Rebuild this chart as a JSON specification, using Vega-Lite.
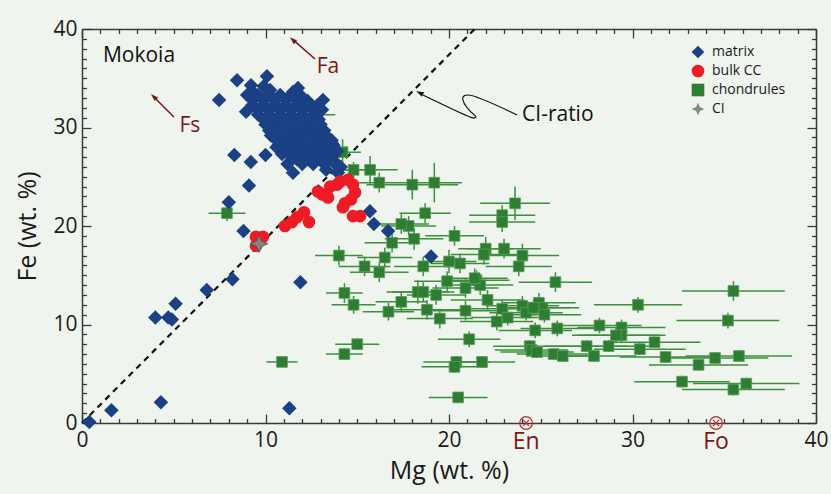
{
  "$schema": "https://vega.github.io/schema/vega-lite/v6.json",
  "width": 734,
  "height": 394,
  "autosize": {"type": "none"},
  "padding": {"left": 82, "top": 29, "right": 15, "bottom": 71},
  "background": "#eff5ee",
  "config": {
    "view": {"stroke": null},
    "font": "Open Sans",
    "axis": {
      "grid": false, "domainColor": "#3a3a3a", "domainWidth": 1.5,
      "tickColor": "#3a3a3a", "tickWidth": 1.3,
      "labelColor": "#1a1a1a", "titleColor": "#1a1a1a",
      "labelFont": "Open Sans", "titleFont": "Open Sans",
      "labelFontSize": 21, "titleFontSize": 25, "titleFontWeight": "normal",
      "labelOverlap": false, "labelFlush": false, "labelBound": false
    },
    "legend": {"labelFont": "Open Sans", "labelFontSize": 14, "labelColor": "#1a1a1a", "symbolSize": 160, "rowPadding": 5, "labelOffset": 7, "padding": 0, "symbolStrokeWidth": 0}
  },
  "datasets": {
    "chond": [
      {"Mg":7.9,"Fe":21.3,"xerr":1.0,"yerr":0.8,"type":"chondrules"},
      {"Mg":14.2,"Fe":27.5,"xerr":1.0,"yerr":1.3,"type":"chondrules"},
      {"Mg":14.8,"Fe":25.7,"xerr":1.3,"yerr":0.8,"type":"chondrules"},
      {"Mg":15.7,"Fe":25.7,"xerr":1.5,"yerr":1.4,"type":"chondrules"},
      {"Mg":16.2,"Fe":24.4,"xerr":2.0,"yerr":1.0,"type":"chondrules"},
      {"Mg":18.0,"Fe":24.2,"xerr":2.5,"yerr":1.5,"type":"chondrules"},
      {"Mg":19.2,"Fe":24.4,"xerr":1.5,"yerr":2.0,"type":"chondrules"},
      {"Mg":23.6,"Fe":22.3,"xerr":1.9,"yerr":1.7,"type":"chondrules"},
      {"Mg":22.9,"Fe":21.1,"xerr":1.8,"yerr":1.0,"type":"chondrules"},
      {"Mg":22.9,"Fe":20.4,"xerr":1.8,"yerr":1.0,"type":"chondrules"},
      {"Mg":18.7,"Fe":21.3,"xerr":1.4,"yerr":1.0,"type":"chondrules"},
      {"Mg":17.8,"Fe":20.0,"xerr":1.5,"yerr":1.0,"type":"chondrules"},
      {"Mg":17.4,"Fe":20.2,"xerr":1.5,"yerr":1.0,"type":"chondrules"},
      {"Mg":18.1,"Fe":18.7,"xerr":1.6,"yerr":1.1,"type":"chondrules"},
      {"Mg":20.3,"Fe":19.0,"xerr":1.6,"yerr":1.0,"type":"chondrules"},
      {"Mg":22.0,"Fe":17.7,"xerr":1.5,"yerr":1.2,"type":"chondrules"},
      {"Mg":23.0,"Fe":17.7,"xerr":2.0,"yerr":1.0,"type":"chondrules"},
      {"Mg":16.9,"Fe":18.3,"xerr":1.5,"yerr":1.0,"type":"chondrules"},
      {"Mg":16.5,"Fe":16.8,"xerr":1.5,"yerr":1.0,"type":"chondrules"},
      {"Mg":14.0,"Fe":17.0,"xerr":1.3,"yerr":1.0,"type":"chondrules"},
      {"Mg":15.4,"Fe":15.9,"xerr":1.4,"yerr":1.0,"type":"chondrules"},
      {"Mg":16.2,"Fe":15.3,"xerr":1.6,"yerr":1.0,"type":"chondrules"},
      {"Mg":18.6,"Fe":15.9,"xerr":1.6,"yerr":1.0,"type":"chondrules"},
      {"Mg":20.0,"Fe":16.4,"xerr":1.5,"yerr":1.2,"type":"chondrules"},
      {"Mg":20.6,"Fe":16.2,"xerr":1.6,"yerr":1.0,"type":"chondrules"},
      {"Mg":14.3,"Fe":13.2,"xerr":1.0,"yerr":1.0,"type":"chondrules"},
      {"Mg":14.8,"Fe":12.0,"xerr":1.2,"yerr":0.9,"type":"chondrules"},
      {"Mg":17.4,"Fe":12.3,"xerr":1.4,"yerr":1.0,"type":"chondrules"},
      {"Mg":16.7,"Fe":11.3,"xerr":1.4,"yerr":0.9,"type":"chondrules"},
      {"Mg":18.3,"Fe":13.3,"xerr":1.7,"yerr":1.2,"type":"chondrules"},
      {"Mg":18.6,"Fe":13.3,"xerr":1.7,"yerr":1.0,"type":"chondrules"},
      {"Mg":19.3,"Fe":13.0,"xerr":1.6,"yerr":1.0,"type":"chondrules"},
      {"Mg":18.8,"Fe":11.5,"xerr":1.8,"yerr":1.0,"type":"chondrules"},
      {"Mg":19.5,"Fe":10.6,"xerr":1.8,"yerr":1.0,"type":"chondrules"},
      {"Mg":19.9,"Fe":14.4,"xerr":1.8,"yerr":1.0,"type":"chondrules"},
      {"Mg":20.9,"Fe":13.7,"xerr":1.8,"yerr":1.0,"type":"chondrules"},
      {"Mg":21.5,"Fe":14.5,"xerr":1.8,"yerr":1.0,"type":"chondrules"},
      {"Mg":20.9,"Fe":11.4,"xerr":1.8,"yerr":1.0,"type":"chondrules"},
      {"Mg":15.0,"Fe":8.0,"xerr":1.2,"yerr":0.6,"type":"chondrules"},
      {"Mg":14.3,"Fe":7.0,"xerr":1.0,"yerr":0.6,"type":"chondrules"},
      {"Mg":21.1,"Fe":8.5,"xerr":1.7,"yerr":0.8,"type":"chondrules"},
      {"Mg":20.4,"Fe":6.2,"xerr":1.8,"yerr":0.6,"type":"chondrules"},
      {"Mg":20.5,"Fe":2.6,"xerr":1.6,"yerr":0.5,"type":"chondrules"},
      {"Mg":10.9,"Fe":6.2,"xerr":0.85,"yerr":0.4,"type":"chondrules"},
      {"Mg":21.9,"Fe":17.1,"xerr":1.8,"yerr":1.0,"type":"chondrules"},
      {"Mg":24.0,"Fe":17.0,"xerr":2.0,"yerr":1.2,"type":"chondrules"},
      {"Mg":23.8,"Fe":15.9,"xerr":1.8,"yerr":1.0,"type":"chondrules"},
      {"Mg":25.8,"Fe":14.3,"xerr":2.0,"yerr":1.0,"type":"chondrules"},
      {"Mg":21.7,"Fe":14.0,"xerr":1.8,"yerr":1.0,"type":"chondrules"},
      {"Mg":22.1,"Fe":12.5,"xerr":2.0,"yerr":1.0,"type":"chondrules"},
      {"Mg":22.9,"Fe":11.6,"xerr":2.0,"yerr":0.9,"type":"chondrules"},
      {"Mg":22.6,"Fe":10.3,"xerr":2.0,"yerr":0.9,"type":"chondrules"},
      {"Mg":23.2,"Fe":10.7,"xerr":2.0,"yerr":0.8,"type":"chondrules"},
      {"Mg":24.0,"Fe":11.9,"xerr":2.0,"yerr":1.0,"type":"chondrules"},
      {"Mg":24.9,"Fe":12.2,"xerr":2.0,"yerr":1.0,"type":"chondrules"},
      {"Mg":25.1,"Fe":11.7,"xerr":2.0,"yerr":0.8,"type":"chondrules"},
      {"Mg":24.2,"Fe":11.2,"xerr":2.0,"yerr":0.8,"type":"chondrules"},
      {"Mg":24.6,"Fe":11.7,"xerr":2.0,"yerr":0.8,"type":"chondrules"},
      {"Mg":25.2,"Fe":11.0,"xerr":2.0,"yerr":0.8,"type":"chondrules"},
      {"Mg":24.7,"Fe":9.4,"xerr":2.0,"yerr":0.8,"type":"chondrules"},
      {"Mg":25.9,"Fe":9.6,"xerr":2.0,"yerr":0.8,"type":"chondrules"},
      {"Mg":28.2,"Fe":9.9,"xerr":2.3,"yerr":0.8,"type":"chondrules"},
      {"Mg":29.4,"Fe":9.7,"xerr":2.4,"yerr":0.8,"type":"chondrules"},
      {"Mg":29.4,"Fe":8.9,"xerr":2.4,"yerr":0.8,"type":"chondrules"},
      {"Mg":29.1,"Fe":8.9,"xerr":2.4,"yerr":0.8,"type":"chondrules"},
      {"Mg":30.3,"Fe":12.0,"xerr":2.4,"yerr":0.8,"type":"chondrules"},
      {"Mg":35.5,"Fe":13.4,"xerr":2.8,"yerr":1.0,"type":"chondrules"},
      {"Mg":35.2,"Fe":10.4,"xerr":2.8,"yerr":0.8,"type":"chondrules"},
      {"Mg":31.2,"Fe":8.2,"xerr":2.5,"yerr":0.6,"type":"chondrules"},
      {"Mg":30.4,"Fe":7.5,"xerr":2.5,"yerr":0.6,"type":"chondrules"},
      {"Mg":28.7,"Fe":7.8,"xerr":2.5,"yerr":0.6,"type":"chondrules"},
      {"Mg":27.5,"Fe":7.8,"xerr":2.3,"yerr":0.6,"type":"chondrules"},
      {"Mg":27.9,"Fe":6.8,"xerr":2.3,"yerr":0.6,"type":"chondrules"},
      {"Mg":31.8,"Fe":6.7,"xerr":2.5,"yerr":0.6,"type":"chondrules"},
      {"Mg":33.6,"Fe":5.9,"xerr":2.7,"yerr":0.6,"type":"chondrules"},
      {"Mg":34.5,"Fe":6.6,"xerr":2.9,"yerr":0.6,"type":"chondrules"},
      {"Mg":35.8,"Fe":6.8,"xerr":2.9,"yerr":0.6,"type":"chondrules"},
      {"Mg":32.7,"Fe":4.2,"xerr":2.6,"yerr":0.6,"type":"chondrules"},
      {"Mg":35.5,"Fe":3.4,"xerr":2.8,"yerr":0.6,"type":"chondrules"},
      {"Mg":36.2,"Fe":4.0,"xerr":2.9,"yerr":0.6,"type":"chondrules"},
      {"Mg":24.4,"Fe":7.8,"xerr":2.0,"yerr":0.6,"type":"chondrules"},
      {"Mg":24.5,"Fe":7.4,"xerr":2.0,"yerr":0.6,"type":"chondrules"},
      {"Mg":24.8,"Fe":7.2,"xerr":2.0,"yerr":0.6,"type":"chondrules"},
      {"Mg":25.7,"Fe":7.0,"xerr":2.0,"yerr":0.6,"type":"chondrules"},
      {"Mg":26.2,"Fe":6.8,"xerr":2.0,"yerr":0.6,"type":"chondrules"},
      {"Mg":21.8,"Fe":6.2,"xerr":1.8,"yerr":0.6,"type":"chondrules"},
      {"Mg":20.3,"Fe":5.7,"xerr":1.8,"yerr":0.6,"type":"chondrules"},
      {"Mg":12.8,"Fe":31.3,"xerr":1.0,"yerr":1.0,"type":"chondrules"},
      {"Mg":21.4,"Fe":14.7,"xerr":1.8,"yerr":1.0,"type":"chondrules"}
    ],
    "matrix": [
      {"Mg":0.4,"Fe":0.1,"type":"matrix"},{"Mg":1.6,"Fe":1.3,"type":"matrix"},{"Mg":4.3,"Fe":2.1,"type":"matrix"},
      {"Mg":4.0,"Fe":10.7,"type":"matrix"},{"Mg":4.7,"Fe":10.7,"type":"matrix"},{"Mg":4.9,"Fe":10.5,"type":"matrix"},
      {"Mg":5.1,"Fe":12.1,"type":"matrix"},{"Mg":6.8,"Fe":13.5,"type":"matrix"},{"Mg":8.2,"Fe":14.6,"type":"matrix"},
      {"Mg":11.9,"Fe":14.3,"type":"matrix"},{"Mg":11.3,"Fe":1.5,"type":"matrix"},{"Mg":8.8,"Fe":19.5,"type":"matrix"},
      {"Mg":8.0,"Fe":22.4,"type":"matrix"},{"Mg":9.1,"Fe":24.1,"type":"matrix"},{"Mg":8.3,"Fe":27.2,"type":"matrix"},
      {"Mg":9.2,"Fe":26.5,"type":"matrix"},{"Mg":10.0,"Fe":27.2,"type":"matrix"},{"Mg":11.2,"Fe":26.3,"type":"matrix"},
      {"Mg":11.5,"Fe":25.4,"type":"matrix"},
      {"Mg":8.45,"Fe":34.8,"type":"matrix"},{"Mg":7.47,"Fe":32.8,"type":"matrix"},{"Mg":9.21,"Fe":34.3,"type":"matrix"},
      {"Mg":10.08,"Fe":35.2,"type":"matrix"},{"Mg":8.94,"Fe":31.6,"type":"matrix"},{"Mg":11.77,"Fe":34.0,"type":"matrix"},
      {"Mg":13.13,"Fe":32.8,"type":"matrix"},{"Mg":13.08,"Fe":31.8,"type":"matrix"},{"Mg":9.32,"Fe":33.6,"type":"matrix"},
      {"Mg":10.25,"Fe":33.8,"type":"matrix"},{"Mg":11.5,"Fe":33.6,"type":"matrix"},{"Mg":9.9,"Fe":34.2,"type":"matrix"},
      {"Mg":9.0,"Fe":33.3,"type":"matrix"},{"Mg":9.6,"Fe":33.3,"type":"matrix"},{"Mg":10.2,"Fe":33.3,"type":"matrix"},
      {"Mg":10.8,"Fe":33.3,"type":"matrix"},{"Mg":11.4,"Fe":33.3,"type":"matrix"},{"Mg":12.0,"Fe":33.1,"type":"matrix"},
      {"Mg":9.3,"Fe":32.8,"type":"matrix"},{"Mg":9.9,"Fe":32.8,"type":"matrix"},{"Mg":10.5,"Fe":32.8,"type":"matrix"},
      {"Mg":11.1,"Fe":32.8,"type":"matrix"},{"Mg":11.7,"Fe":32.8,"type":"matrix"},{"Mg":12.3,"Fe":32.7,"type":"matrix"},
      {"Mg":9.3,"Fe":32.3,"type":"matrix"},{"Mg":9.9,"Fe":32.3,"type":"matrix"},{"Mg":10.5,"Fe":32.3,"type":"matrix"},
      {"Mg":11.1,"Fe":32.3,"type":"matrix"},{"Mg":11.7,"Fe":32.3,"type":"matrix"},{"Mg":12.3,"Fe":32.3,"type":"matrix"},
      {"Mg":12.8,"Fe":32.2,"type":"matrix"},
      {"Mg":9.6,"Fe":31.8,"type":"matrix"},{"Mg":10.2,"Fe":31.8,"type":"matrix"},{"Mg":10.8,"Fe":31.8,"type":"matrix"},
      {"Mg":11.4,"Fe":31.8,"type":"matrix"},{"Mg":12.0,"Fe":31.8,"type":"matrix"},{"Mg":12.6,"Fe":31.8,"type":"matrix"},
      {"Mg":9.6,"Fe":31.3,"type":"matrix"},{"Mg":10.2,"Fe":31.3,"type":"matrix"},{"Mg":10.8,"Fe":31.3,"type":"matrix"},
      {"Mg":11.4,"Fe":31.3,"type":"matrix"},{"Mg":12.0,"Fe":31.3,"type":"matrix"},{"Mg":12.6,"Fe":31.3,"type":"matrix"},
      {"Mg":9.9,"Fe":30.8,"type":"matrix"},{"Mg":10.5,"Fe":30.8,"type":"matrix"},{"Mg":11.1,"Fe":30.8,"type":"matrix"},
      {"Mg":11.7,"Fe":30.8,"type":"matrix"},{"Mg":12.3,"Fe":30.8,"type":"matrix"},{"Mg":12.9,"Fe":30.8,"type":"matrix"},
      {"Mg":10.0,"Fe":30.3,"type":"matrix"},{"Mg":10.6,"Fe":30.3,"type":"matrix"},{"Mg":11.2,"Fe":30.3,"type":"matrix"},
      {"Mg":11.8,"Fe":30.3,"type":"matrix"},{"Mg":12.4,"Fe":30.3,"type":"matrix"},{"Mg":13.0,"Fe":30.3,"type":"matrix"},
      {"Mg":10.2,"Fe":29.7,"type":"matrix"},{"Mg":10.8,"Fe":29.7,"type":"matrix"},{"Mg":11.4,"Fe":29.7,"type":"matrix"},
      {"Mg":12.0,"Fe":29.7,"type":"matrix"},{"Mg":12.6,"Fe":29.7,"type":"matrix"},{"Mg":13.2,"Fe":29.7,"type":"matrix"},
      {"Mg":10.3,"Fe":29.2,"type":"matrix"},{"Mg":10.9,"Fe":29.2,"type":"matrix"},{"Mg":11.5,"Fe":29.2,"type":"matrix"},
      {"Mg":12.1,"Fe":29.2,"type":"matrix"},{"Mg":12.7,"Fe":29.2,"type":"matrix"},{"Mg":13.3,"Fe":29.2,"type":"matrix"},
      {"Mg":10.6,"Fe":28.7,"type":"matrix"},{"Mg":11.2,"Fe":28.7,"type":"matrix"},{"Mg":11.8,"Fe":28.7,"type":"matrix"},
      {"Mg":12.4,"Fe":28.7,"type":"matrix"},{"Mg":13.0,"Fe":28.7,"type":"matrix"},{"Mg":13.6,"Fe":28.7,"type":"matrix"},
      {"Mg":10.7,"Fe":28.2,"type":"matrix"},{"Mg":11.3,"Fe":28.2,"type":"matrix"},{"Mg":11.9,"Fe":28.2,"type":"matrix"},
      {"Mg":12.5,"Fe":28.2,"type":"matrix"},{"Mg":13.1,"Fe":28.2,"type":"matrix"},{"Mg":13.7,"Fe":28.2,"type":"matrix"},
      {"Mg":11.0,"Fe":27.7,"type":"matrix"},{"Mg":11.6,"Fe":27.7,"type":"matrix"},{"Mg":12.2,"Fe":27.7,"type":"matrix"},
      {"Mg":12.8,"Fe":27.7,"type":"matrix"},{"Mg":13.4,"Fe":27.7,"type":"matrix"},
      {"Mg":11.3,"Fe":27.2,"type":"matrix"},{"Mg":11.9,"Fe":27.2,"type":"matrix"},{"Mg":12.5,"Fe":27.2,"type":"matrix"},
      {"Mg":13.1,"Fe":27.2,"type":"matrix"},{"Mg":13.7,"Fe":27.2,"type":"matrix"},
      {"Mg":11.7,"Fe":26.8,"type":"matrix"},{"Mg":12.3,"Fe":26.8,"type":"matrix"},{"Mg":12.9,"Fe":26.8,"type":"matrix"},
      {"Mg":13.5,"Fe":26.8,"type":"matrix"},
      {"Mg":12.0,"Fe":26.3,"type":"matrix"},{"Mg":12.6,"Fe":26.3,"type":"matrix"},{"Mg":13.2,"Fe":26.3,"type":"matrix"},
      {"Mg":13.8,"Fe":26.3,"type":"matrix"},{"Mg":13.3,"Fe":25.7,"type":"matrix"},
      {"Mg":10.6,"Fe":28.0,"type":"matrix"},{"Mg":10.9,"Fe":27.3,"type":"matrix"},
      {"Mg":13.62,"Fe":28.4,"type":"matrix"},{"Mg":13.9,"Fe":27.6,"type":"matrix"},{"Mg":13.79,"Fe":26.5,"type":"matrix"},
      {"Mg":13.95,"Fe":25.4,"type":"matrix"},{"Mg":14.1,"Fe":26.0,"type":"matrix"},
      {"Mg":15.69,"Fe":21.5,"type":"matrix"},{"Mg":15.91,"Fe":20.2,"type":"matrix"},{"Mg":16.68,"Fe":19.5,"type":"matrix"},
      {"Mg":19.02,"Fe":16.9,"type":"matrix"}
    ],
    "bulk": [
      {"Mg":9.48,"Fe":18.9,"type":"bulk CC"},{"Mg":9.86,"Fe":18.9,"type":"bulk CC"},{"Mg":9.48,"Fe":18.0,"type":"bulk CC"},
      {"Mg":11.06,"Fe":20.0,"type":"bulk CC"},{"Mg":11.44,"Fe":20.4,"type":"bulk CC"},{"Mg":11.72,"Fe":20.9,"type":"bulk CC"},
      {"Mg":12.1,"Fe":21.4,"type":"bulk CC"},{"Mg":12.37,"Fe":20.4,"type":"bulk CC"},{"Mg":12.86,"Fe":23.5,"type":"bulk CC"},
      {"Mg":13.41,"Fe":22.9,"type":"bulk CC"},{"Mg":13.52,"Fe":24.0,"type":"bulk CC"},{"Mg":13.9,"Fe":24.2,"type":"bulk CC"},
      {"Mg":14.06,"Fe":24.5,"type":"bulk CC"},{"Mg":14.5,"Fe":24.7,"type":"bulk CC"},{"Mg":14.77,"Fe":24.2,"type":"bulk CC"},
      {"Mg":14.88,"Fe":23.4,"type":"bulk CC"},{"Mg":14.66,"Fe":22.7,"type":"bulk CC"},{"Mg":14.33,"Fe":22.3,"type":"bulk CC"},
      {"Mg":14.22,"Fe":21.9,"type":"bulk CC"},{"Mg":14.77,"Fe":21.0,"type":"bulk CC"},{"Mg":15.15,"Fe":21.0,"type":"bulk CC"},
      {"Mg":13.1,"Fe":23.2,"type":"bulk CC"}
    ],
    "ci": [{"Mg":9.65,"Fe":18.2,"type":"CI"}]
  },
  "layer": [
    {
      "data": {"values": [{"Mg":0,"Fe":0},{"Mg":21.4,"Fe":40}]},
      "mark": {"type": "line", "color": "#111111", "strokeWidth": 2.2, "strokeDash": [6, 5]},
      "encoding": {
        "x": {"field": "Mg", "type": "quantitative", "scale": {"domain": [0, 40], "nice": false, "zero": false},
          "axis": {"orient": "bottom", "values": [0,1,2,3,4,5,6,7,8,9,10,11,12,13,14,15,16,17,18,19,20,21,22,23,24,25,26,27,28,29,30,31,32,33,34,35,36,37,38,39,40],
            "tickSize": {"condition": {"test": "datum.value % 10 === 0", "value": -9}, "value": -4.5},
            "labelExpr": "datum.value % 10 === 0 ? datum.label : ''", "labelPadding": 15,
            "title": "Mg (wt. %)", "titlePadding": 4}},
        "y": {"field": "Fe", "type": "quantitative", "scale": {"domain": [0, 40], "nice": false, "zero": false},
          "axis": {"orient": "left", "values": [0,1,2,3,4,5,6,7,8,9,10,11,12,13,14,15,16,17,18,19,20,21,22,23,24,25,26,27,28,29,30,31,32,33,34,35,36,37,38,39,40],
            "tickSize": {"condition": {"test": "datum.value % 10 === 0", "value": -9}, "value": -4.5},
            "labelExpr": "datum.value % 10 === 0 ? datum.label : ''", "labelPadding": 14,
            "title": "Fe (wt. %)", "titlePadding": 12}}
      }
    },
    {
      "data": {"values": [
        {"Mg":23.71,"Fe":31.27,"o":0},{"Mg":21.04,"Fe":33.3,"o":1},{"Mg":20.76,"Fe":33.1,"o":2},{"Mg":20.82,"Fe":32.49,"o":3},
        {"Mg":21.14,"Fe":31.68,"o":4},{"Mg":21.47,"Fe":31.07,"o":5},{"Mg":21.36,"Fe":30.96,"o":6},{"Mg":21.14,"Fe":31.07,"o":7},
        {"Mg":18.58,"Fe":33.3,"o":8}]},
      "mark": {"type": "line", "color": "#111111", "strokeWidth": 1.2, "interpolate": "catmull-rom"},
      "encoding": {
        "x": {"field": "Mg", "type": "quantitative",
          "axis": {"orient": "top", "values": [0,1,2,3,4,5,6,7,8,9,10,11,12,13,14,15,16,17,18,19,20,21,22,23,24,25,26,27,28,29,30,31,32,33,34,35,36,37,38,39,40],
            "tickSize": {"condition": {"test": "datum.value % 10 === 0", "value": -9}, "value": -4.5},
            "labels": false, "title": null}},
        "y": {"field": "Fe", "type": "quantitative",
          "axis": {"orient": "right", "values": [0,1,2,3,4,5,6,7,8,9,10,11,12,13,14,15,16,17,18,19,20,21,22,23,24,25,26,27,28,29,30,31,32,33,34,35,36,37,38,39,40],
            "tickSize": {"condition": {"test": "datum.value % 10 === 0", "value": -9}, "value": -4.5},
            "labels": false, "title": null}},
        "order": {"field": "o", "type": "quantitative"}
      }
    },
    {
      "data": {"values": [{"Mg":18.42,"Fe":33.5}]},
      "mark": {"type": "point", "shape": "M0,-1L0.6,0.8L-0.6,0.8Z", "filled": true, "color": "#111111", "size": 70, "angle": 296, "opacity": 1},
      "encoding": {"x": {"field": "Mg", "type": "quantitative", "axis": null}, "y": {"field": "Fe", "type": "quantitative", "axis": null}}
    },
    {
      "data": {"name": "chond"},
      "mark": {"type": "errorbar", "ticks": false, "color": "#3d8f3d", "thickness": 1.5},
      "encoding": {"x": {"field": "Mg", "type": "quantitative", "axis": null}, "xError": {"field": "xerr"}, "y": {"field": "Fe", "type": "quantitative", "axis": null}}
    },
    {
      "data": {"name": "chond"},
      "mark": {"type": "errorbar", "ticks": false, "color": "#3d8f3d", "thickness": 1.5},
      "encoding": {"y": {"field": "Fe", "type": "quantitative", "axis": null}, "yError": {"field": "yerr"}, "x": {"field": "Mg", "type": "quantitative", "axis": null}}
    },
    {
      "data": {"name": "chond"},
      "mark": {"type": "point", "filled": true, "size": 115, "opacity": 1, "stroke": "#5a9e5a", "strokeWidth": 0.8},
      "encoding": {
        "x": {"field": "Mg", "type": "quantitative", "axis": null}, "y": {"field": "Fe", "type": "quantitative", "axis": null},
        "color": {"field": "type", "type": "nominal", "scale": {"domain": ["matrix","bulk CC","chondrules","CI"], "range": ["#1b4184","#ed1c24","#2e7d32","#858585"]}, "legend": {"orient": "none", "legendX": 609, "legendY": 16, "title": null}},
        "shape": {"field": "type", "type": "nominal", "scale": {"domain": ["matrix","bulk CC","chondrules","CI"], "range": ["diamond","circle","square","M0,-1L0.3,-0.3L1,0L0.3,0.3L0,1L-0.3,0.3L-1,0L-0.3,-0.3Z"]}, "legend": {"orient": "none", "legendX": 609, "legendY": 16, "title": null}}
      }
    },
    {
      "data": {"name": "matrix"},
      "mark": {"type": "point", "filled": true, "size": 210, "opacity": 1},
      "encoding": {
        "x": {"field": "Mg", "type": "quantitative", "axis": null}, "y": {"field": "Fe", "type": "quantitative", "axis": null},
        "color": {"field": "type", "type": "nominal", "scale": {"domain": ["matrix","bulk CC","chondrules","CI"], "range": ["#1b4184","#ed1c24","#2e7d32","#858585"]}, "legend": {"orient": "none", "legendX": 609, "legendY": 16, "title": null}},
        "shape": {"field": "type", "type": "nominal", "scale": {"domain": ["matrix","bulk CC","chondrules","CI"], "range": ["diamond","circle","square","M0,-1L0.3,-0.3L1,0L0.3,0.3L0,1L-0.3,0.3L-1,0L-0.3,-0.3Z"]}, "legend": {"orient": "none", "legendX": 609, "legendY": 16, "title": null}}
      }
    },
    {
      "data": {"name": "bulk"},
      "mark": {"type": "point", "filled": true, "size": 160, "opacity": 1},
      "encoding": {
        "x": {"field": "Mg", "type": "quantitative", "axis": null}, "y": {"field": "Fe", "type": "quantitative", "axis": null},
        "color": {"field": "type", "type": "nominal", "scale": {"domain": ["matrix","bulk CC","chondrules","CI"], "range": ["#1b4184","#ed1c24","#2e7d32","#858585"]}, "legend": {"orient": "none", "legendX": 609, "legendY": 16, "title": null}},
        "shape": {"field": "type", "type": "nominal", "scale": {"domain": ["matrix","bulk CC","chondrules","CI"], "range": ["diamond","circle","square","M0,-1L0.3,-0.3L1,0L0.3,0.3L0,1L-0.3,0.3L-1,0L-0.3,-0.3Z"]}, "legend": {"orient": "none", "legendX": 609, "legendY": 16, "title": null}}
      }
    },
    {
      "data": {"name": "ci"},
      "mark": {"type": "point", "filled": true, "size": 300, "opacity": 1, "stroke": "#555555", "strokeWidth": 1},
      "encoding": {
        "x": {"field": "Mg", "type": "quantitative", "axis": null}, "y": {"field": "Fe", "type": "quantitative", "axis": null},
        "color": {"field": "type", "type": "nominal", "scale": {"domain": ["matrix","bulk CC","chondrules","CI"], "range": ["#1b4184","#ed1c24","#2e7d32","#858585"]}, "legend": {"orient": "none", "legendX": 609, "legendY": 16, "title": null}},
        "shape": {"field": "type", "type": "nominal", "scale": {"domain": ["matrix","bulk CC","chondrules","CI"], "range": ["diamond","circle","square","M0,-1L0.3,-0.3L1,0L0.3,0.3L0,1L-0.3,0.3L-1,0L-0.3,-0.3Z"]}, "legend": {"orient": "none", "legendX": 609, "legendY": 16, "title": null}}
      }
    },
    {
      "data": {"values": [
        {"g":"Fa","o":0,"Mg":12.7,"Fe":36.95},{"g":"Fa","o":1,"Mg":11.6,"Fe":38.75},
        {"g":"Fs","o":0,"Mg":5.01,"Fe":31.07},{"g":"Fs","o":1,"Mg":4.0,"Fe":32.95}]},
      "mark": {"type": "line", "color": "#7f1416", "strokeWidth": 1.5},
      "encoding": {"x": {"field": "Mg", "type": "quantitative", "axis": null}, "y": {"field": "Fe", "type": "quantitative", "axis": null}, "detail": {"field": "g"}, "order": {"field": "o", "type": "quantitative"}}
    },
    {
      "data": {"values": [{"Mg":11.5,"Fe":38.88},{"Mg":3.92,"Fe":33.1}]},
      "mark": {"type": "point", "shape": "M0,-1L0.6,0.8L-0.6,0.8Z", "filled": true, "color": "#7f1416", "size": 70, "angle": 313, "opacity": 1},
      "encoding": {"x": {"field": "Mg", "type": "quantitative", "axis": null}, "y": {"field": "Fe", "type": "quantitative", "axis": null}}
    },
    {
      "data": {"values": [{"label":"Mokoia","Mg":1.14,"Fe":37.3},{"label":"CI-ratio","Mg":23.98,"Fe":31.3}]},
      "mark": {"type": "text", "align": "left", "baseline": "middle", "fontSize": 21, "color": "#111111", "font": "Open Sans"},
      "encoding": {"x": {"field": "Mg", "type": "quantitative", "axis": null}, "y": {"field": "Fe", "type": "quantitative", "axis": null}, "text": {"field": "label"}}
    },
    {
      "data": {"values": [{"label":"Fa","Mg":13.4,"Fe":36.1},{"label":"Fs","Mg":5.88,"Fe":30.15}]},
      "mark": {"type": "text", "align": "center", "baseline": "middle", "fontSize": 21, "color": "#7f1416", "font": "Open Sans"},
      "encoding": {"x": {"field": "Mg", "type": "quantitative", "axis": null}, "y": {"field": "Fe", "type": "quantitative", "axis": null}, "text": {"field": "label"}}
    },
    {
      "data": {"values": [{"label":"En","Mg":24.2,"Fe":-1.93},{"label":"Fo","Mg":34.55,"Fe":-1.93}]},
      "mark": {"type": "text", "align": "center", "baseline": "middle", "fontSize": 23, "color": "#7f1416", "font": "Open Sans"},
      "encoding": {"x": {"field": "Mg", "type": "quantitative", "axis": null}, "y": {"field": "Fe", "type": "quantitative", "axis": null}, "text": {"field": "label"}}
    },
    {
      "data": {"values": [{"Mg":24.2,"Fe":0},{"Mg":34.55,"Fe":0}]},
      "mark": {"type": "point", "shape": "circle", "filled": false, "stroke": "#b5302f", "strokeWidth": 1.2, "size": 160, "opacity": 1},
      "encoding": {"x": {"field": "Mg", "type": "quantitative", "axis": null}, "y": {"field": "Fe", "type": "quantitative", "axis": null}}
    },
    {
      "data": {"values": [{"Mg":24.2,"Fe":0},{"Mg":34.55,"Fe":0}]},
      "mark": {"type": "point", "shape": "M-0.5,-0.5L0.5,0.5M-0.5,0.5L0.5,-0.5", "filled": false, "stroke": "#b5302f", "strokeWidth": 1.2, "size": 160, "opacity": 1},
      "encoding": {"x": {"field": "Mg", "type": "quantitative", "axis": null}, "y": {"field": "Fe", "type": "quantitative", "axis": null}}
    }
  ],
  "resolve": {"axis": {"x": "independent", "y": "independent"}}
}
